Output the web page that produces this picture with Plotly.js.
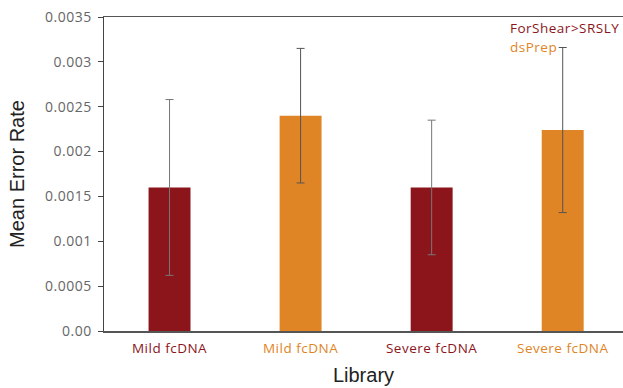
<!DOCTYPE html>
<html><head><meta charset="utf-8">
<script src="https://cdn.plot.ly/plotly-3.0.1.min.js"></script>
<style>html,body{margin:0;padding:0;background:#fff}
.ytick text, .xtick text, .annotation-text{letter-spacing:0.5px}</style>
</head><body><div id="chart" style="width:623px;height:388px"></div>
<script>
const seriesNames = ["ForShear>SRSLY", "dsPrep"];
const seriesColors = ["#8B151B", "#E08526"];
const tickLabels = ["Mild fcDNA", "Mild fcDNA", "Severe fcDNA", "Severe fcDNA"];
const forshearX = [0, 2];
const forshearY = [0.0016, 0.0016];
const forshearErr = [0.00098, 0.00075];
const dsprepX = [1, 3];
const dsprepY = [0.0024, 0.00224];
const dsprepErr = [0.00075, 0.00092];
const yTickVals = [0, 0.0005, 0.001, 0.0015, 0.002, 0.0025, 0.003, 0.0035];
const yTickText = ["0.00", "0.0005", "0.001", "0.0015", "0.002", "0.0025", "0.003", "0.0035"];
const tickColors = [seriesColors[0], seriesColors[1], seriesColors[0], seriesColors[1]];

const FONT = "'Open Sans', sans-serif";
const TFONT = "'Liberation Sans', Arial, sans-serif";
const traces = [
  {type:"bar", name:seriesNames[0], x:forshearX, y:forshearY, width:0.32,
   marker:{color:seriesColors[0]},
   error_y:{type:"data", array:forshearErr, visible:true, color:"#777", thickness:1, width:4}},
  {type:"bar", name:seriesNames[1], x:dsprepX, y:dsprepY, width:0.32,
   marker:{color:seriesColors[1]},
   error_y:{type:"data", array:dsprepErr, visible:true, color:"#555", thickness:1, width:4}}
];

const layout = {
  width:623, height:388,
  margin:{l:104, r:0, t:17, b:57},
  paper_bgcolor:"#fff", plot_bgcolor:"#fff",
  showlegend:false,
  font:{family:FONT, color:"#555"},
  xaxis:{
    range:[-0.5, 3.46], tickmode:"array", tickvals:[0,1,2,3],
    ticktext:tickLabels.map((t,i)=>`<span style="color:${tickColors[i]}">${t}</span>`),
    tickfont:{size:13.5, family:FONT}, ticks:"", showgrid:false, zeroline:false,
    ticklabelstandoff:4,
    showline:true, linecolor:"#555", linewidth:1.5, mirror:true,
    title:{text:"Library", font:{size:20, color:"#222", family:TFONT}, standoff:12}
  },
  yaxis:{
    range:[0, 0.0035], tickmode:"array", tickvals:yTickVals, ticktext:yTickText,
    tickfont:{size:14, color:"#666", family:FONT}, ticks:"outside", ticklen:5, tickcolor:"#444",
    ticklabelstandoff:3,
    showgrid:false, zeroline:false, showline:true, linecolor:"#444", linewidth:1.5,
    title:{text:"Mean Error Rate", font:{size:20, color:"#222", family:TFONT}, standoff:15}
  },
  annotations:[
    {xref:"paper", yref:"paper", x:0.778, y:1.0, xanchor:"left", yanchor:"top", showarrow:false,
     text:seriesNames[0].replace(">","&gt;"), font:{size:13.5, color:seriesColors[0], family:FONT}},
    {xref:"paper", yref:"paper", x:0.778, y:0.94, xanchor:"left", yanchor:"top", showarrow:false,
     text:seriesNames[1], font:{size:13.5, color:seriesColors[1], family:FONT}}
  ]
};
Plotly.newPlot("chart", traces, layout, {displayModeBar:false, staticPlot:true});
</script></body></html>
